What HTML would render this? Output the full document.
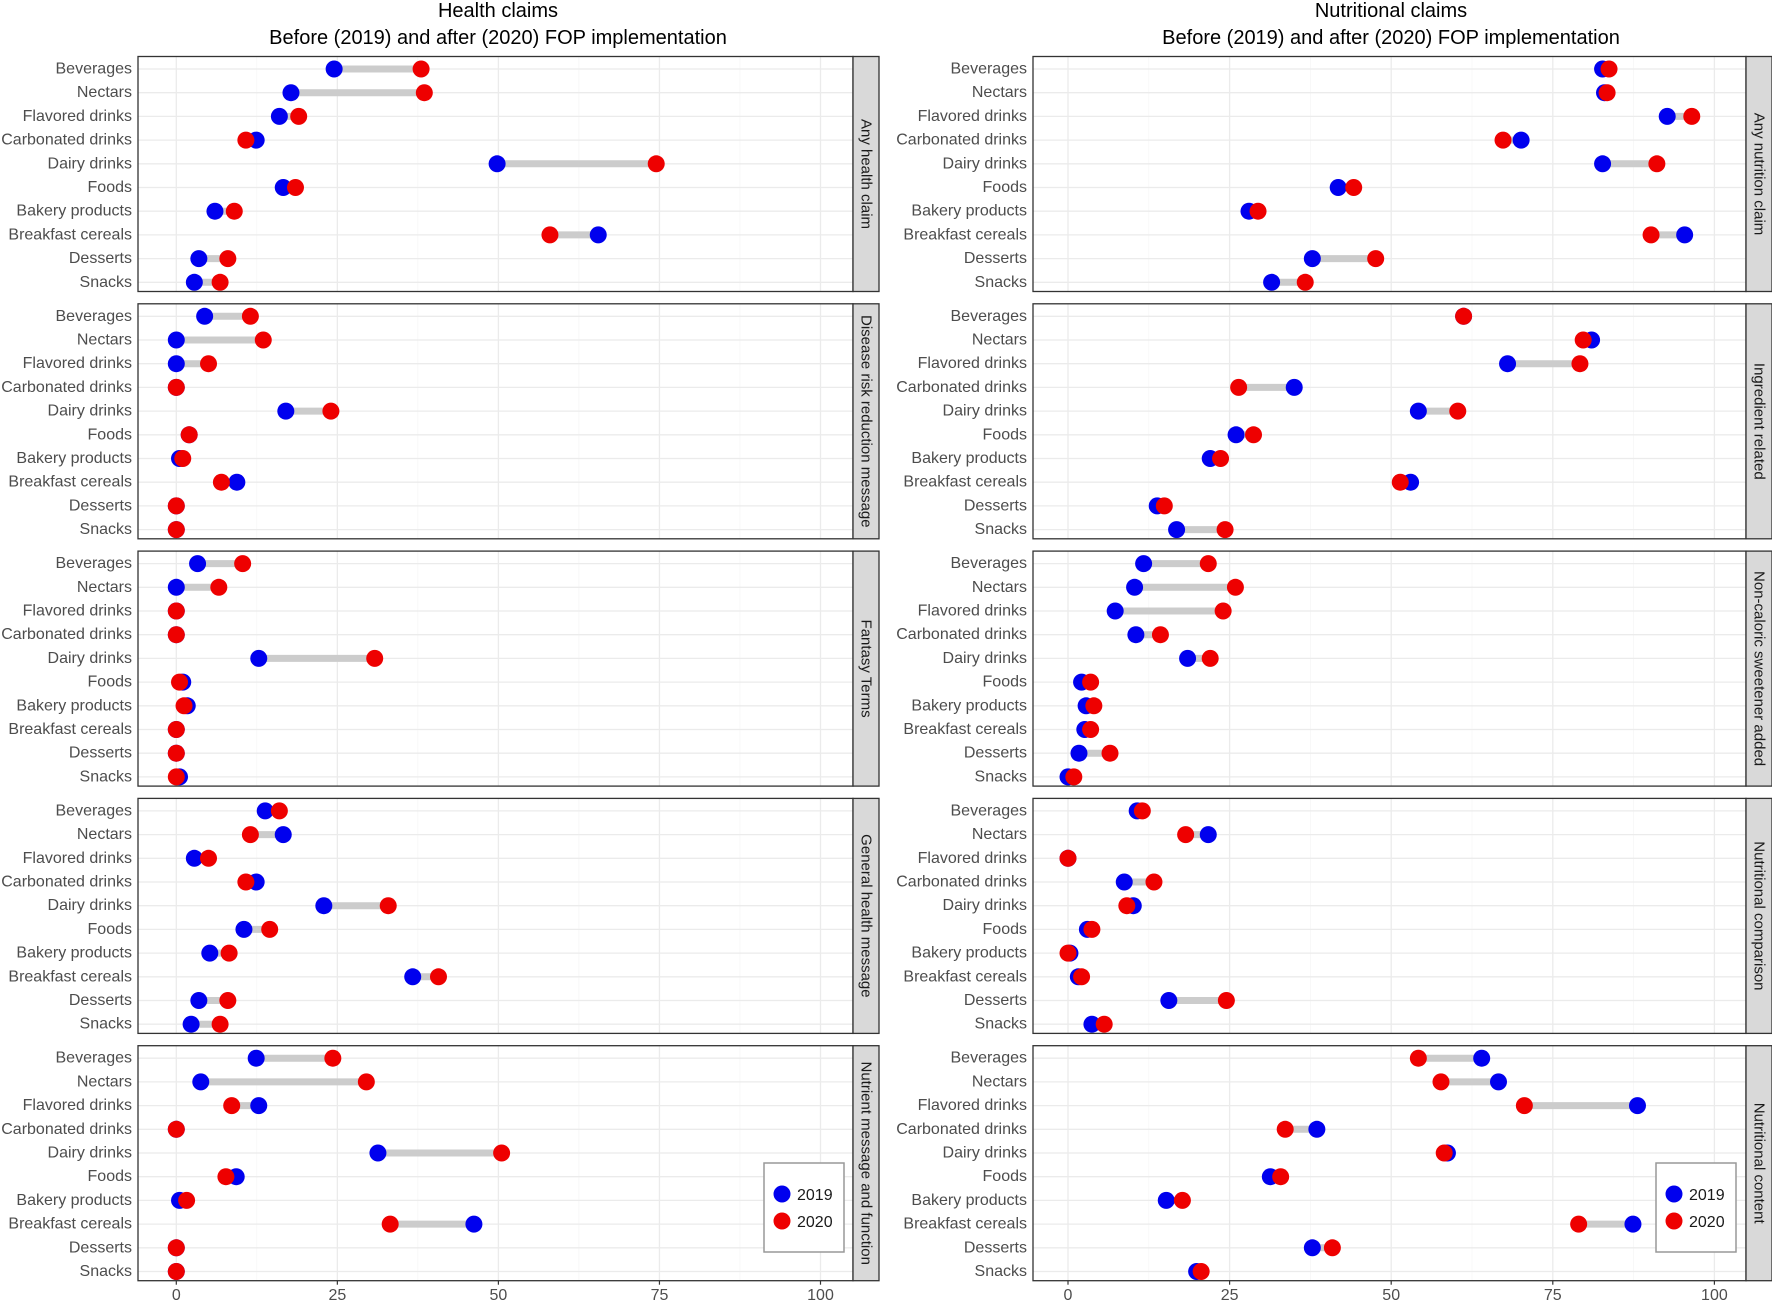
<!DOCTYPE html>
<html><head><meta charset="utf-8"><style>
html,body{margin:0;padding:0;background:#fff;}
svg{display:block;font-family:"Liberation Sans",sans-serif;}
.lab{font-size:16px;fill:#4d4d4d;text-anchor:end;dominant-baseline:central;}
.st{font-size:15px;fill:#1a1a1a;text-anchor:middle;dominant-baseline:central;}
.tk{font-size:16px;fill:#4d4d4d;text-anchor:middle;}
.ti{font-size:20px;fill:#000;text-anchor:middle;}
</style></head><body>
<svg id="s" width="1772" height="1304" viewBox="0 0 1772 1304" xmlns="http://www.w3.org/2000/svg">
<g id="grid"></g>
<g id="segs"></g>
<g id="dots"></g>
<g id="frames"></g>
<text class="ti" x="498" y="17">Health claims</text>
<text class="ti" x="498" y="44">Before (2019) and after (2020) FOP implementation</text>
<text class="ti" x="1391" y="17">Nutritional claims</text>
<text class="ti" x="1391" y="44">Before (2019) and after (2020) FOP implementation</text>

<g id="labels">
<g transform="translate(132,69)"><text class="lab" y="0">Beverages</text><text class="lab" y="23.7">Nectars</text><text class="lab" y="47.4">Flavored drinks</text><text class="lab" y="71.1">Carbonated drinks</text><text class="lab" y="94.8">Dairy drinks</text><text class="lab" y="118.5">Foods</text><text class="lab" y="142.2">Bakery products</text><text class="lab" y="165.9">Breakfast cereals</text><text class="lab" y="189.6">Desserts</text><text class="lab" y="213.3">Snacks</text></g>
<g transform="translate(132,316.3)"><text class="lab" y="0">Beverages</text><text class="lab" y="23.7">Nectars</text><text class="lab" y="47.4">Flavored drinks</text><text class="lab" y="71.1">Carbonated drinks</text><text class="lab" y="94.8">Dairy drinks</text><text class="lab" y="118.5">Foods</text><text class="lab" y="142.2">Bakery products</text><text class="lab" y="165.9">Breakfast cereals</text><text class="lab" y="189.6">Desserts</text><text class="lab" y="213.3">Snacks</text></g>
<g transform="translate(132,563.6)"><text class="lab" y="0">Beverages</text><text class="lab" y="23.7">Nectars</text><text class="lab" y="47.4">Flavored drinks</text><text class="lab" y="71.1">Carbonated drinks</text><text class="lab" y="94.8">Dairy drinks</text><text class="lab" y="118.5">Foods</text><text class="lab" y="142.2">Bakery products</text><text class="lab" y="165.9">Breakfast cereals</text><text class="lab" y="189.6">Desserts</text><text class="lab" y="213.3">Snacks</text></g>
<g transform="translate(132,810.9)"><text class="lab" y="0">Beverages</text><text class="lab" y="23.7">Nectars</text><text class="lab" y="47.4">Flavored drinks</text><text class="lab" y="71.1">Carbonated drinks</text><text class="lab" y="94.8">Dairy drinks</text><text class="lab" y="118.5">Foods</text><text class="lab" y="142.2">Bakery products</text><text class="lab" y="165.9">Breakfast cereals</text><text class="lab" y="189.6">Desserts</text><text class="lab" y="213.3">Snacks</text></g>
<g transform="translate(132,1058.2)"><text class="lab" y="0">Beverages</text><text class="lab" y="23.7">Nectars</text><text class="lab" y="47.4">Flavored drinks</text><text class="lab" y="71.1">Carbonated drinks</text><text class="lab" y="94.8">Dairy drinks</text><text class="lab" y="118.5">Foods</text><text class="lab" y="142.2">Bakery products</text><text class="lab" y="165.9">Breakfast cereals</text><text class="lab" y="189.6">Desserts</text><text class="lab" y="213.3">Snacks</text></g>
<g transform="translate(1027,69)"><text class="lab" y="0">Beverages</text><text class="lab" y="23.7">Nectars</text><text class="lab" y="47.4">Flavored drinks</text><text class="lab" y="71.1">Carbonated drinks</text><text class="lab" y="94.8">Dairy drinks</text><text class="lab" y="118.5">Foods</text><text class="lab" y="142.2">Bakery products</text><text class="lab" y="165.9">Breakfast cereals</text><text class="lab" y="189.6">Desserts</text><text class="lab" y="213.3">Snacks</text></g>
<g transform="translate(1027,316.3)"><text class="lab" y="0">Beverages</text><text class="lab" y="23.7">Nectars</text><text class="lab" y="47.4">Flavored drinks</text><text class="lab" y="71.1">Carbonated drinks</text><text class="lab" y="94.8">Dairy drinks</text><text class="lab" y="118.5">Foods</text><text class="lab" y="142.2">Bakery products</text><text class="lab" y="165.9">Breakfast cereals</text><text class="lab" y="189.6">Desserts</text><text class="lab" y="213.3">Snacks</text></g>
<g transform="translate(1027,563.6)"><text class="lab" y="0">Beverages</text><text class="lab" y="23.7">Nectars</text><text class="lab" y="47.4">Flavored drinks</text><text class="lab" y="71.1">Carbonated drinks</text><text class="lab" y="94.8">Dairy drinks</text><text class="lab" y="118.5">Foods</text><text class="lab" y="142.2">Bakery products</text><text class="lab" y="165.9">Breakfast cereals</text><text class="lab" y="189.6">Desserts</text><text class="lab" y="213.3">Snacks</text></g>
<g transform="translate(1027,810.9)"><text class="lab" y="0">Beverages</text><text class="lab" y="23.7">Nectars</text><text class="lab" y="47.4">Flavored drinks</text><text class="lab" y="71.1">Carbonated drinks</text><text class="lab" y="94.8">Dairy drinks</text><text class="lab" y="118.5">Foods</text><text class="lab" y="142.2">Bakery products</text><text class="lab" y="165.9">Breakfast cereals</text><text class="lab" y="189.6">Desserts</text><text class="lab" y="213.3">Snacks</text></g>
<g transform="translate(1027,1058.2)"><text class="lab" y="0">Beverages</text><text class="lab" y="23.7">Nectars</text><text class="lab" y="47.4">Flavored drinks</text><text class="lab" y="71.1">Carbonated drinks</text><text class="lab" y="94.8">Dairy drinks</text><text class="lab" y="118.5">Foods</text><text class="lab" y="142.2">Bakery products</text><text class="lab" y="165.9">Breakfast cereals</text><text class="lab" y="189.6">Desserts</text><text class="lab" y="213.3">Snacks</text></g>
</g>

<text class="st" transform="translate(866,174) rotate(90)">Any health claim</text>
<text class="st" transform="translate(866,421.3) rotate(90)">Disease risk reduction message</text>
<text class="st" transform="translate(866,668.6) rotate(90)">Fantasy Terms</text>
<text class="st" transform="translate(866,915.9) rotate(90)">General health message</text>
<text class="st" transform="translate(866,1163.2) rotate(90)">Nutrient message and function</text>
<text class="st" transform="translate(1759,174) rotate(90)">Any nutrition claim</text>
<text class="st" transform="translate(1759,421.3) rotate(90)">Ingredient related</text>
<text class="st" transform="translate(1759,668.6) rotate(90)">Non-caloric sweetener added</text>
<text class="st" transform="translate(1759,915.9) rotate(90)">Nutritional comparison</text>
<text class="st" transform="translate(1759,1163.2) rotate(90)">Nutritional content</text>

<text class="tk" x="176.3" y="1300">0</text><text class="tk" x="337.4" y="1300">25</text><text class="tk" x="498.4" y="1300">50</text><text class="tk" x="659.5" y="1300">75</text><text class="tk" x="820.5" y="1300">100</text>
<text class="tk" x="1068" y="1300">0</text><text class="tk" x="1229.6" y="1300">25</text><text class="tk" x="1391.2" y="1300">50</text><text class="tk" x="1552.8" y="1300">75</text><text class="tk" x="1714.4" y="1300">100</text>

<rect x="764" y="1163" width="80" height="89" fill="#fff" stroke="#999" stroke-width="1.5"/>
<circle cx="782" cy="1194" r="8.5" fill="#0000ee"/><circle cx="782" cy="1221" r="8.5" fill="#ee0000"/>
<text x="797" y="1200" font-size="16" fill="#1a1a1a">2019</text><text x="797" y="1227" font-size="16" fill="#1a1a1a">2020</text>
<rect x="1656" y="1163" width="80" height="89" fill="#fff" stroke="#999" stroke-width="1.5"/>
<circle cx="1674" cy="1194" r="8.5" fill="#0000ee"/><circle cx="1674" cy="1221" r="8.5" fill="#ee0000"/>
<text x="1689" y="1200" font-size="16" fill="#1a1a1a">2019</text><text x="1689" y="1227" font-size="16" fill="#1a1a1a">2020</text>
</svg>
<script>
(function(){
var NS="http://www.w3.org/2000/svg";
function el(p,t,a){var e=document.createElementNS(NS,t);for(var k in a)e.setAttribute(k,a[k]);p.appendChild(e);return e;}
var G=document.getElementById("grid"),S=document.getElementById("segs"),D=document.getElementById("dots"),F=document.getElementById("frames");
var L={x0:138,x1:853,z:176.3,u:6.442},R={x0:1033,x1:1746,z:1068,u:6.464};
var data=[
[[24.5,38],[17.8,38.5],[16,19],[12.4,10.8],[49.8,74.5],[16.6,18.5],[6,9],[65.5,58],[3.5,8],[2.8,6.8]],
[[4.4,11.5],[0,13.5],[0,5],[0,0],[17,24],[2,2],[0.5,1],[9.4,7],[0,0],[0,0]],
[[3.3,10.3],[0,6.6],[0,0],[0,0],[12.8,30.8],[1,0.5],[1.7,1.2],[0,0],[0,0],[0.5,0]],
[[13.8,16],[16.6,11.5],[2.8,5],[12.4,10.8],[22.9,32.9],[10.5,14.5],[5.2,8.2],[36.7,40.7],[3.5,8],[2.3,6.8]],
[[12.4,24.3],[3.8,29.5],[12.8,8.6],[0,0],[31.3,50.5],[9.3,7.7],[0.5,1.6],[46.2,33.2],[0,0],[0,0]],
[[82.7,83.7],[83,83.4],[92.7,96.5],[70.1,67.3],[82.7,91.1],[41.8,44.2],[28,29.4],[95.4,90.2],[37.8,47.6],[31.5,36.7]],
[[61.2,61.2],[81,79.7],[68,79.2],[35,26.4],[54.2,60.3],[26,28.7],[22,23.6],[53,51.4],[13.8,14.9],[16.8,24.3]],
[[11.7,21.7],[10.3,25.9],[7.3,24],[10.5,14.3],[18.5,22],[2.1,3.5],[2.8,4],[2.6,3.5],[1.7,6.5],[0,0.9]],
[[10.7,11.5],[21.7,18.2],[0,0],[8.7,13.3],[10.1,9.1],[3,3.7],[0.3,0],[1.6,2.1],[15.6,24.5],[3.7,5.6]],
[[64,54.2],[66.6,57.7],[88.1,70.6],[38.5,33.6],[58.7,58.2],[31.3,32.9],[15.2,17.7],[87.4,79],[37.8,40.9],[19.9,20.6]]
];
for(var p=0;p<10;p++){
 var A=p<5?L:R, pt=56.5+(p%5)*247.3, h=235;
 el(G,"rect",{x:A.x0,y:pt,width:A.x1-A.x0,height:h,fill:"#fff"});
 for(var v=0;v<=100;v+=12.5){var x=A.z+v*A.u;el(G,"line",{x1:x,x2:x,y1:pt,y2:pt+h,stroke:(v%25==0)?"#ebebeb":"#f5f5f5","stroke-width":(v%25==0)?1.3:0.7});}
 for(var i=0;i<10;i++){var y=pt+12.5+i*23.7;el(G,"line",{x1:A.x0,x2:A.x1,y1:y,y2:y,stroke:"#ebebeb","stroke-width":1.3});
  var d=data[p][i],xb=A.z+d[0]*A.u,xr=A.z+d[1]*A.u;
  if(Math.abs(xb-xr)>0.5)el(S,"line",{x1:xb,x2:xr,y1:y,y2:y,stroke:"#cccccc","stroke-width":7});
  el(D,"circle",{cx:xb,cy:y,r:8.5,fill:"#0000ee"});
 }
 for(var i=0;i<10;i++){var y=pt+12.5+i*23.7,d=data[p][i];el(D,"circle",{cx:A.z+d[1]*A.u,cy:y,r:8.5,fill:"#ee0000"});}
 el(F,"rect",{x:A.x0,y:pt,width:A.x1-A.x0,height:h,fill:"none",stroke:"#333","stroke-width":1.3});
 el(F,"rect",{x:A.x1,y:pt,width:26,height:h,fill:"#d9d9d9",stroke:"#333","stroke-width":1.3});
 if(p%5==4)for(var v=0;v<=100;v+=25){var x=A.z+v*A.u;el(F,"line",{x1:x,x2:x,y1:pt+h,y2:pt+h+4,stroke:"#333","stroke-width":1.2});}
}
})();
</script>
</body></html>
